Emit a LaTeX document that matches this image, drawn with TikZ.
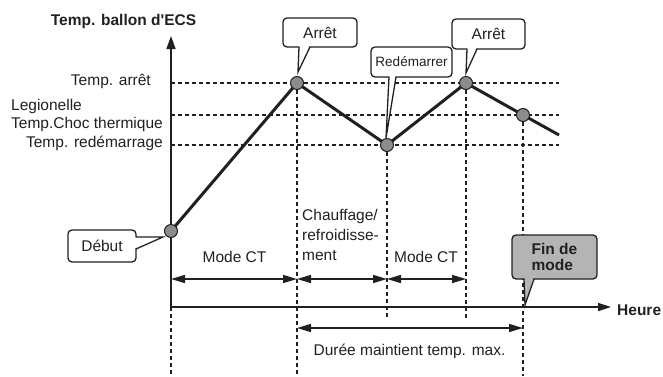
\documentclass[tikz,border=0pt]{standalone}
\usepackage{fontspec}
\setmainfont{Liberation Sans}
\usetikzlibrary{arrows.meta}
\definecolor{ink}{RGB}{35,31,32}
\definecolor{dotgray}{RGB}{140,140,140}
\definecolor{boxgray}{RGB}{180,180,180}
\begin{document}
\begin{tikzpicture}[x=1pt,y=-1pt,
  lbl/.style={inner sep=0pt, font=\fontsize{15.5}{18}\selectfont, text=ink},
  blbl/.style={lbl, font=\fontsize{15.5}{18}\selectfont\bfseries},
  grid/.style={draw=ink, line width=1.2pt, dash pattern=on 4pt off 3pt},
  axis/.style={draw=ink, line width=1.6pt},
  curve/.style={draw=ink, line width=3pt, line join=round},
  dim/.style={draw=ink, line width=1.4pt, {Triangle[length=14pt,width=8pt]}-{Triangle[length=14pt,width=8pt]}},
  dot/.style={circle, draw=ink, line width=1pt, fill=dotgray, inner sep=0pt, minimum size=13pt},
  callbox/.style={draw=ink, line width=1.3pt, rounded corners=4pt, fill=white, inner sep=0pt, text=ink, font=\fontsize{15.5}{18}\selectfont},
  tail/.style={draw=ink, line width=1.3pt, line join=miter},
]
\useasboundingbox (0,0) rectangle (663,376);

% key coordinates
\coordinate (O) at (171,307);
\coordinate (ytop) at (171,36);
\coordinate (xend) at (611,307);
\coordinate (c0) at (171,231);
\coordinate (c1) at (297,83);
\coordinate (c2) at (387,145);
\coordinate (c3) at (466,83);
\coordinate (c4) at (523,115);
\coordinate (c5) at (559,135);

% horizontal dashed levels
\coordinate (hA0) at (171,83);  \coordinate (hA1) at (559,83);
\coordinate (hL0) at (171,115); \coordinate (hL1) at (559,115);
\coordinate (hR0) at (171,145); \coordinate (hR1) at (559,145);
\draw[grid] (hA0) -- (hA1);
\draw[grid] (hL0) -- (hL1);
\draw[grid] (hR0) -- (hR1);

% vertical dashed lines
\coordinate (v0b) at (171,376);
\coordinate (v1b) at (297,376);
\coordinate (v2b) at (387,318);
\coordinate (v3b) at (466,318);
\coordinate (v4b) at (523,376);
\draw[grid] (O) -- (v0b);
\draw[grid] (c1) -- (v1b);
\draw[grid] (c2) -- (v2b);
\draw[grid] (c3) -- (v3b);
\draw[grid] (c4) -- (v4b);

% axes
\draw[axis, -{Triangle[length=13pt,width=9pt]}] (O) -- (ytop);
\draw[axis, -{Triangle[length=13pt,width=8pt]}] (O) -- (xend);

% curve
\draw[curve] (c0) -- (c1) -- (c2) -- (c3) -- (c4) -- (c5);

% dimension arrows
\coordinate (d0) at (171,279);
\coordinate (d1) at (297,279);
\coordinate (d2) at (387,279);
\coordinate (d3) at (466,279);
\draw[dim] (d0) -- (d1);
\draw[dim] (d1) -- (d2);
\draw[dim] (d2) -- (d3);
\coordinate (e0) at (297,328);
\coordinate (e1) at (523,328);
\draw[dim] (e0) -- (e1);

% points
\node[dot] (p0) at (c0) {};
\node[dot] (p1) at (c1) {};
\node[dot] (p2) at (c2) {};
\node[dot] (p3) at (c3) {};
\node[dot] (p4) at (c4) {};

% axis labels
\node[blbl, anchor=base] (ylab) at (123.5,25) {Temp. ballon d\textquotesingle ECS};
\node[blbl, anchor=base west] (xlab) at (617,315) {Heure};
\node[lbl, anchor=base east] (tarret) at (151,85) {Temp. arrêt};
\node[lbl, anchor=base west, align=left] (tleg) at (11,128) {Legionelle\\Temp.Choc thermique};
\node[lbl, anchor=base east] (tred) at (163,147) {Temp. redémarrage};

% interval labels
\node[lbl, anchor=base] (m1) at (234.5,262) {Mode CT};
\node[lbl, anchor=base west, align=left, font=\fontsize{15.5}{20}\selectfont] (chauf) at (302,260) {Chauffage/\\refroidisse-\\ment};
\node[lbl, anchor=base] (m2) at (426,262) {Mode CT};
\node[lbl, anchor=base] (duree) at (409.5,355) {Durée maintient temp. max.};

% callouts
\node[callbox, minimum width=74pt, minimum height=29pt] (arret1) at (320,32.5) {Arrêt};
\coordinate (t1) at (298,72);
\fill[white] (299.5,45.5) -- (t1) -- (309.5,45.5) -- cycle;
\draw[tail] (299,47) -- (t1) -- (310,47);

\node[callbox, minimum width=73pt, minimum height=30pt] (arret2) at (488.5,34) {Arrêt};
\coordinate (t3) at (466,73);
\fill[white] (467.5,47.5) -- (t3) -- (476.5,47.5) -- cycle;
\draw[tail] (467,49) -- (t3) -- (477,49);

\node[callbox, minimum width=81pt, minimum height=30pt, font=\fontsize{13.5}{16}\selectfont] (redem) at (411.5,62) {Redémarrer};
\coordinate (t2) at (386,138);
\fill[white] (389.5,75.5) -- (t2) -- (395.5,75.5) -- cycle;
\draw[tail] (389,77) -- (t2) -- (396,77);

\node[callbox, minimum width=68pt, minimum height=32pt] (debut) at (102,246) {Début};
\coordinate (t0) at (163,237);
\fill[white] (134.5,237.5) -- (t0) -- (134.5,248.5) -- cycle;
\draw[tail] (136,237) -- (t0) -- (136,249);

\node[callbox, fill=boxgray, minimum width=85pt, minimum height=44pt, align=left, font=\fontsize{15.5}{16.5}\selectfont\bfseries] (fin) at (554.5,257) {Fin de\\mode};
\coordinate (t4) at (525,305);
\fill[boxgray] (524.5,277.5) -- (t4) -- (533.5,277.5) -- cycle;
\draw[tail] (524,279) -- (t4) -- (534,279);
\end{tikzpicture}
\end{document}
